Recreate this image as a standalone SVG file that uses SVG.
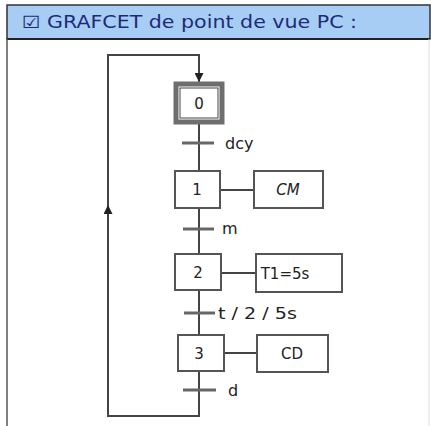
<svg xmlns="http://www.w3.org/2000/svg" width="431" height="426" viewBox="0 0 431 426">
<style>
.box{fill:#fff;stroke:#555;stroke-width:2}
.ln{stroke:#444;stroke-width:2;fill:none}
.bar{stroke:#666;stroke-width:3}
.t{font-family:"DejaVu Sans",sans-serif;font-size:16px;fill:#222}
.n{font-family:"DejaVu Sans",sans-serif;font-size:15px;fill:#222;text-anchor:middle}
</style>
<defs>
<marker id="ar" viewBox="0 0 10 10" refX="10" refY="5" markerWidth="4.5" markerHeight="4.5" orient="auto">
<path d="M0,0 L10,5 L0,10 z" fill="#222"/>
</marker>
</defs>
<rect x="0" y="0" width="431" height="426" fill="#fff"/>
<g id="header">
<rect x="7" y="5" width="423" height="34" fill="#A8CDF4" stroke="#333" stroke-width="1.5"/>
<line x1="7" y1="39" x2="430" y2="39" stroke="#222" stroke-width="2"/>
<line x1="7" y1="39" x2="7" y2="426" stroke="#555" stroke-width="1.5"/>
<line x1="429" y1="39" x2="429" y2="426" stroke="#ddd" stroke-width="1"/>
<text x="22" y="28" font-family="'DejaVu Sans',sans-serif" font-size="17" fill="#1C2B78" textLength="335" lengthAdjust="spacingAndGlyphs">☑ GRAFCET de point de vue PC :</text>
</g>
<g id="connectors">
<path class="ln" d="M199,123 V170 M199,208 V253 M199,290 V334 M199,371 V416 H108 V55 H199 V83"/>
<path class="ln" d="M108,225 V205" marker-end="url(#ar)"/>
<path class="ln" d="M199,60 V82" marker-end="url(#ar)"/>
<path class="ln" d="M220,190 H254 M221,273 H256 M224,353 H257"/>
<line class="bar" x1="182" y1="143" x2="214" y2="143"/>
<line class="bar" x1="183" y1="229" x2="214" y2="229"/>
<line class="bar" x1="184" y1="313" x2="215" y2="313"/>
<line class="bar" x1="183" y1="390" x2="216" y2="390"/>
<text class="t" x="225" y="149">dcy</text>
<text class="t" x="222" y="234">m</text>
<text class="t" x="218" y="319" textLength="79" lengthAdjust="spacingAndGlyphs">t / 2 / 5s</text>
<text class="t" x="228" y="396">d</text>
</g>
<g id="step0">
<rect x="176" y="84" width="46" height="38" fill="#fff" stroke="#6e6e6e" stroke-width="5"/>
<rect x="180" y="88" width="38" height="30" fill="none" stroke="#444" stroke-width="1"/>
<text class="n" x="199" y="109">0</text>
</g>
<g id="step1">
<rect class="box" x="175" y="171" width="45" height="37"/>
<text class="n" x="197" y="195">1</text>
</g>
<g id="action1">
<rect class="box" x="254" y="171" width="69" height="37"/>
<text class="n" x="288" y="195" font-style="italic">CM</text>
</g>
<g id="step2">
<rect class="box" x="175" y="254" width="46" height="36"/>
<text class="n" x="198" y="278">2</text>
</g>
<g id="action2">
<rect class="box" x="256" y="254" width="86" height="38"/>
<text class="n" x="285" y="279">T1=5s</text>
</g>
<g id="step3">
<rect class="box" x="178" y="335" width="46" height="36"/>
<text class="n" x="199" y="359">3</text>
</g>
<g id="action3">
<rect class="box" x="257" y="335" width="71" height="37"/>
<text class="n" x="292" y="359">CD</text>
</g>
</svg>
